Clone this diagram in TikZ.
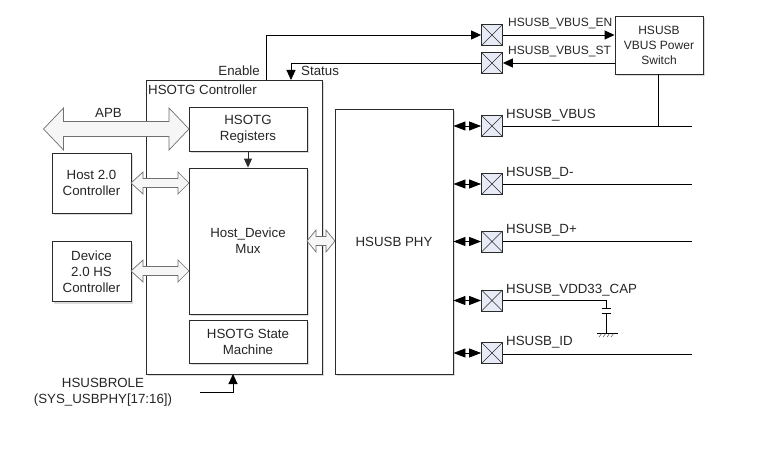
\documentclass[tikz,border=0pt]{standalone}
\usepackage{fontspec}
\setmainfont{Liberation Sans}
\usetikzlibrary{arrows.meta,shadows,calc}
\definecolor{ln}{HTML}{2B2B2B}
\definecolor{pad}{HTML}{E6EBF5}
\definecolor{bus}{HTML}{F6F6F6}
\definecolor{busln}{HTML}{707070}
\tikzset{
  every node/.style={font=\fontsize{13.3}{16}\selectfont,text=black!85},
  smalltext/.style={font=\fontsize{12}{15}\selectfont},
  sbox/.style={draw=ln,line width=0.9pt,fill=white,align=center,inner sep=0pt,
    copy shadow={draw=none,fill=black!14,shadow xshift=2pt,shadow yshift=-2pt}},
  xpad/.style={draw=ln,line width=0.8pt,fill=pad,minimum width=21pt,minimum height=21pt,inner sep=0pt,
    path picture={\draw[ln,line width=0.4pt] (path picture bounding box.north west)--(path picture bounding box.south east)
      (path picture bounding box.north east)--(path picture bounding box.south west);}},
  lab/.style={anchor=west,inner sep=0pt},
  wire/.style={draw=black,line width=0.9pt},
  tip/.style={wire,-{Triangle[length=10pt,width=9pt]}},
  dtip/.style={wire,{Triangle[length=12pt,width=9pt]}-{Triangle[length=12pt,width=9pt]}},
  busarrow/.style={draw=busln,line width=0.7pt,fill=bus,line join=miter},
}
\newcommand{\busA}[8]{% style x0 x1 xb0 xb1 yc headhalf shafthalf
  \path[busarrow,#1] (#2,#6) -- (#4,{#6-#7}) -- (#4,{#6-#8}) -- (#5,{#6-#8}) -- (#5,{#6-#7}) -- (#3,#6)
    -- (#5,{#6+#7}) -- (#5,{#6+#8}) -- (#4,{#6+#8}) -- (#4,{#6+#7}) -- cycle;}
\begin{document}
\begin{tikzpicture}[x=1pt,y=-1pt]
\useasboundingbox[fill=white] (0,0) rectangle (772,460);

% main blocks
\node[sbox,minimum width=176pt,minimum height=294pt] (ctrl) at (234,227) {};
\node[sbox,minimum width=118pt,minimum height=265pt] (phy) at (394,241.5) {HSUSB PHY};
\node[sbox,smalltext,minimum width=88pt,minimum height=58pt] (sw) at (659,45) {HSUSB\\VBUS Power\\Switch};
\node[sbox,minimum width=118pt,minimum height=44pt] (reg) at (248,129) {HSOTG\\Registers};
\node[sbox,minimum width=118pt,minimum height=146pt] (mux) at (248,241) {Host\_Device\\Mux};
\node[sbox,minimum width=118pt,minimum height=43pt] (fsm) at (248,341.5) {HSOTG State\\Machine};
\node[sbox,minimum width=79pt,minimum height=60pt] (host) at (91.5,183) {Host 2.0\\Controller};
\node[sbox,minimum width=79pt,minimum height=60pt] (dev) at (91.5,271.5) {Device\\2.0 HS\\Controller};

% pads
\node[xpad] (pEN) at (492,35) {};
\node[xpad] (pST) at (492,63) {};
\node[xpad] (pVB) at (492,126) {};
\node[xpad] (pDM) at (492,184) {};
\node[xpad] (pDP) at (492,241.5) {};
\node[xpad] (pCP) at (492,300.5) {};
\node[xpad] (pID) at (492,353) {};

% bus arrows
\busA{}{43.5}{189}{63.5}{169}{129}{21}{7.5}
\busA{}{131}{189}{143}{178}{183}{11}{4.5}
\busA{}{131}{189}{143}{178}{271}{11}{4.5}
\busA{}{307}{335}{316}{326}{241}{11}{4.5}

% free ends
\coordinate (eVB) at (692,126);
\coordinate (eDM) at (692,184);
\coordinate (eDP) at (692,241.5);
\coordinate (eID) at (692,354);
\coordinate (jV) at (658,126);
\coordinate (capA) at (606,308);
\coordinate (capB) at (606,313);
\coordinate (gnd) at (606,333);
\coordinate (roleS) at (200,392);

% signal wires
\draw[tip] (266,80) |- (pEN.west);
\draw[tip] (pEN.east) -- (sw.west |- pEN.east);
\draw[tip] (sw.west |- pST.east) -- (pST.east);
\draw[tip] (pST.west) -| (291,80);
\draw[wire] (pVB.east) -- (eVB);
\draw[wire] (pDM.east) -- (eDM);
\draw[wire] (pDP.east) -- (eDP);
\draw[wire] (pID.east |- eID) -- (eID);
\draw[wire] (sw.south -| jV) -- (jV);
\foreach \p in {pVB,pDM,pDP,pCP,pID}
  \draw[dtip] (phy.east |- \p.west) -- (\p.west);

% capacitor and ground
\draw[wire] (pCP.east) -| (capA);
\draw[wire] (capB) -- (gnd);
\draw[wire] ($(capA)+(-4.5,0)$) -- ($(capA)+(4.5,0)$);
\draw[wire] ($(capB)+(-4.5,0)$) -- ($(capB)+(4.5,0)$);
\draw[wire] ($(gnd)+(-9,0)$) -- ($(gnd)+(12,0)$);
\foreach \dx in {-4,0,4,8}
  \draw[ln,line width=0.4pt] ($(gnd)+(\dx,0)$) -- ($(gnd)+(\dx-3,4)$);

% internal
\draw[draw=ln,line width=0.9pt,-{Triangle[length=9pt,width=8pt]}] (reg.south) -- (mux.north);
\draw[tip] (roleS) -| (233,374);

% labels
\node[lab,smalltext] (tEN) at (508,24) {HSUSB\_VBUS\_EN};
\node[lab,smalltext] (tST) at (508,52) {HSUSB\_VBUS\_ST};
\node[lab] (tVB) at (506,115) {HSUSB\_VBUS};
\node[lab] (tDM) at (506,173) {HSUSB\_D-};
\node[lab] (tDP) at (506,230) {HSUSB\_D+};
\node[lab] (tCP) at (506,290) {HSUSB\_VDD33\_CAP};
\node[lab] (tID) at (506,342) {HSUSB\_ID};
\node[lab] (tCtl) at (148,89.5) {HSOTG Controller};
\node[anchor=east,inner sep=0pt] (tEn) at (260,71) {Enable};
\node[lab] (tSt) at (301,71) {Status};
\node[inner sep=0pt] (tAPB) at (108.5,113) {APB};
\node[align=center,inner sep=0pt] (tRole) at (103,392.5) {HSUSBROLE\\(SYS\_USBPHY[17:16])};
\end{tikzpicture}
\end{document}
